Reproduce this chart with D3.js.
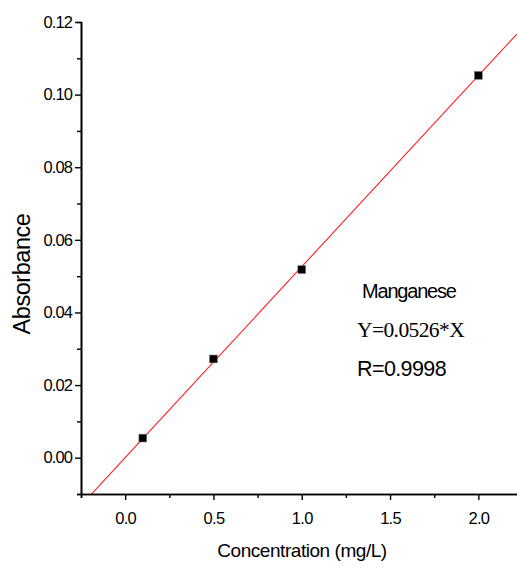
<!DOCTYPE html>
<html>
<head>
<meta charset="utf-8">
<script src="https://cdn.jsdelivr.net/npm/d3@7/dist/d3.min.js"></script>
<style>
  html, body { margin: 0; padding: 0; background: #fff; }
  svg { display: block; }
  .tick text { font-family: "Liberation Sans", Arial, sans-serif; }
</style>
</head>
<body>
<svg id="chart" width="517" height="567"></svg>
<script>
// Manganese calibration standards
const concentrations = [0.1, 0.5, 1.0, 2.0];      // mg/L
const absorbances   = [0.0054, 0.0272, 0.0518, 0.1053];
const slope = 0.0526;                               // Y = 0.0526 * X
const rValue = "0.9998";

const xMajorTicks = [0.0, 0.5, 1.0, 1.5, 2.0];
const xMinorTicks = [-0.25, 0.25, 0.75, 1.25, 1.75, 2.25];
const yMajorTicks = [0.00, 0.02, 0.04, 0.06, 0.08, 0.10, 0.12];
const yMinorTicks = [-0.01, 0.01, 0.03, 0.05, 0.07, 0.09, 0.11];

const svg = d3.select("#chart");
const W = 517, H = 567;
const plotL = 81, plotR = 522.5, plotT = 22, plotB = 494;

const x = d3.scaleLinear().domain([-0.25, 2.25]).range([plotL, plotR]);
const y = d3.scaleLinear().domain([-0.01, 0.12]).range([plotB, plotT]);

const sans = '"Liberation Sans", Arial, sans-serif';
const serif = '"Liberation Serif", "Times New Roman", serif';

// clip region for the fitted line
svg.append("clipPath").attr("id", "plot-clip")
  .append("rect").attr("x", plotL).attr("y", plotT)
  .attr("width", W - plotL).attr("height", plotB - plotT);

// fitted calibration line
const fitX = d3.range(-0.25, 2.26, 0.25);
svg.append("path")
  .datum(fitX)
  .attr("clip-path", "url(#plot-clip)")
  .attr("fill", "none")
  .attr("stroke", "#ff2020")
  .attr("stroke-width", 1.1)
  .attr("d", d3.line().x(d => x(d)).y(d => y(slope * d)));

// data markers
svg.append("g").selectAll("rect")
  .data(concentrations.map((c, i) => [c, absorbances[i]]))
  .join("rect")
  .attr("x", d => x(d[0]) - 3.9)
  .attr("y", d => y(d[1]) - 3.9)
  .attr("width", 7.8)
  .attr("height", 7.8)
  .attr("fill", "#000")
  .attr("stroke", "#777")
  .attr("stroke-width", 0.6);

// axes: minor ticks first, then major with labels
function styleAxis(g) {
  g.select(".domain").attr("stroke", "#000").attr("stroke-width", 1.6);
  g.selectAll(".tick line").attr("stroke", "#000").attr("stroke-width", 1.4);
}

svg.append("g")
  .attr("transform", `translate(0,${plotB})`)
  .call(d3.axisBottom(x).tickValues(xMinorTicks).tickSize(4).tickFormat(""))
  .call(styleAxis);
svg.append("g")
  .attr("transform", `translate(0,${plotB})`)
  .call(d3.axisBottom(x).tickValues(xMajorTicks).tickSize(6).tickSizeOuter(0)
        .tickPadding(12).tickFormat(d3.format(".1f")))
  .call(styleAxis)
  .call(g => g.selectAll(".tick text")
    .attr("font-size", 16.5).attr("letter-spacing", "-0.7px").attr("fill", "#000"));

svg.append("g")
  .attr("transform", `translate(${plotL},0)`)
  .call(d3.axisLeft(y).tickValues(yMinorTicks).tickSize(4).tickFormat(""))
  .call(styleAxis);
svg.append("g")
  .attr("transform", `translate(${plotL},0)`)
  .call(d3.axisLeft(y).tickValues(yMajorTicks).tickSize(6).tickSizeOuter(0)
        .tickPadding(3).tickFormat(d3.format(".2f")))
  .call(styleAxis)
  .call(g => g.selectAll(".tick text")
    .attr("font-size", 16.5).attr("letter-spacing", "-0.9px").attr("fill", "#000"));

// axis titles
svg.append("text")
  .attr("x", (W + plotL) / 2 + 3)
  .attr("y", 557)
  .attr("text-anchor", "middle")
  .attr("font-family", sans)
  .attr("font-size", 19)
  .attr("letter-spacing", "-0.45px")
  .text("Concentration (mg/L)");

svg.append("text")
  .attr("transform", "translate(30,274) rotate(-90)")
  .attr("text-anchor", "middle")
  .attr("font-family", sans)
  .attr("font-size", 23.5)
  .attr("letter-spacing", "-0.45px")
  .text("Absorbance");

// regression annotation
svg.append("text")
  .attr("x", 362).attr("y", 298)
  .attr("font-family", sans).attr("font-size", 20)
  .attr("letter-spacing", "-1.2px")
  .text("Manganese");
svg.append("text")
  .attr("x", 357).attr("y", 337)
  .attr("font-family", serif).attr("font-size", 21.5)
  .attr("letter-spacing", "-0.6px")
  .text(`Y=${slope}*X`);
svg.append("text")
  .attr("x", 357).attr("y", 376)
  .attr("font-family", sans).attr("font-size", 21.5)
  .attr("letter-spacing", "-0.6px")
  .text(`R=${rValue}`);
</script>
</body>
</html>
